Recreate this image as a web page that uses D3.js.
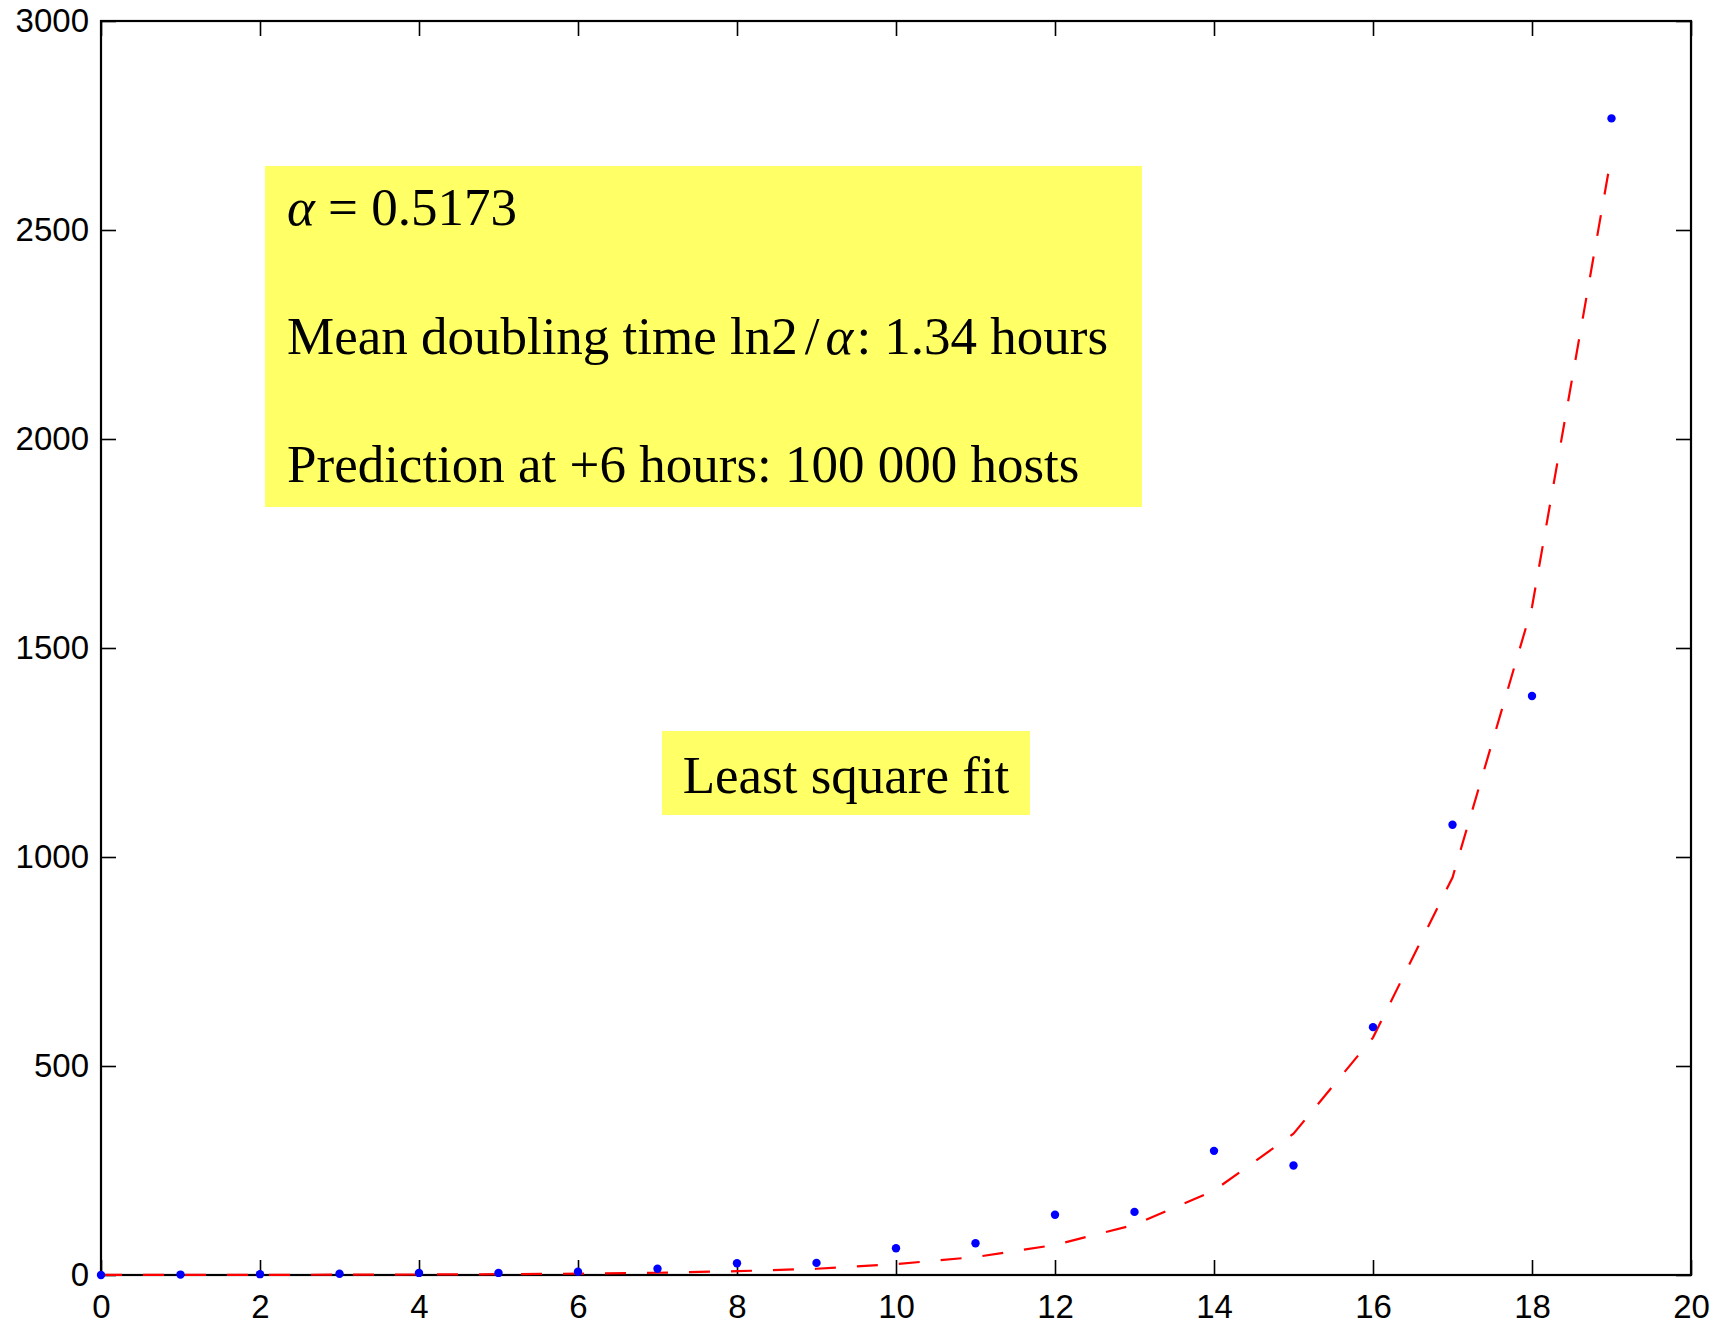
<!DOCTYPE html>
<html>
<head>
<meta charset="utf-8">
<script src="https://cdn.jsdelivr.net/npm/d3@7"></script>
<style>
  body { margin: 0; background: #fff; }
  svg { display: block; }
  .tick text { font-family: "Liberation Sans", Arial, sans-serif; font-size: 33px; fill: #000; }
  .note { font-family: "Liberation Serif", "Times New Roman", serif; font-size: 53px; fill: #000; }
</style>
</head>
<body>
<div class="d3-div"></div>
<script>
var hours = [0, 1, 2, 3, 4, 5, 6, 7, 8, 9, 10, 11, 12, 13, 14, 15, 16, 17, 18, 19];
var hosts = [0, 1, 2, 3, 5, 5, 8, 15, 28, 29, 64, 76, 144, 151, 297, 262, 593, 1077, 1385, 2767];
var fitHosts = [0.14, 0.24, 0.41, 0.69, 1.2, 1.9, 3.2, 5.4, 9.1, 15, 26, 43, 72, 120, 202, 338, 568, 951, 1598, 2680];

var xTicks = [0, 2, 4, 6, 8, 10, 12, 14, 16, 18, 20];
var yTicks = [0, 500, 1000, 1500, 2000, 2500, 3000];

var noteLines = ["α = 0.5173", "Mean doubling time ln2/α: 1.34 hours", "Prediction at +6 hours: 100 000 hosts"];
var fitLabel = "Least square fit";

var width = 1724;
var height = 1325;
// plot box edges (don't call these top/left, window.top is read only)
var plotL = 101, plotR = 1691, plotT = 21, plotB = 1275;

var svg = d3.select(".d3-div")
    .append("svg")
    .attr("width", width)
    .attr("height", height);

var x = d3.scaleLinear().domain([0, 20]).range([plotL, plotR]);
var y = d3.scaleLinear().domain([0, 3000]).range([plotB, plotT]);

// Yellow notes first, under everything else.
var box1 = svg.append("g");
box1.append("rect")
    .attr("x", 265).attr("y", 166)
    .attr("width", 877).attr("height", 341)
    .attr("fill", "#ffff66");
// first line with italic alpha
var l1 = box1.append("text").attr("class", "note").attr("x", 287).attr("y", 225);
l1.append("tspan").attr("font-style", "italic").text("α");
l1.append("tspan").text(" = 0.5173");
// second line, slash and alpha set a bit apart like math mode
var l2 = box1.append("text").attr("class", "note").attr("x", 287).attr("y", 354);
l2.append("tspan").text("Mean doubling time ln2");
l2.append("tspan").attr("dx", 7).text("/");
l2.append("tspan").attr("dx", 6).attr("font-style", "italic").text("α");
l2.append("tspan").attr("dx", 3).text(": 1.34 hours");
box1.append("text").attr("class", "note").attr("x", 287).attr("y", 482).text(noteLines[2]);

svg.append("rect")
    .attr("x", 662).attr("y", 731)
    .attr("width", 368).attr("height", 84)
    .attr("fill", "#ffff66");
svg.append("text").attr("class", "note")
    .attr("x", 846).attr("y", 793)
    .attr("text-anchor", "middle")
    .text(fitLabel);

// Axes: inward ticks on all four sides, labels on bottom and left.
var tickLen = 15;
var xAxis = svg.append("g")
    .attr("transform", "translate(0," + plotB + ")")
    .call(d3.axisBottom(x).tickValues(xTicks).tickSizeInner(-tickLen).tickSizeOuter(0).tickPadding(20).tickFormat(d3.format("d")));
var yAxis = svg.append("g")
    .attr("transform", "translate(" + plotL + ",0)")
    .call(d3.axisLeft(y).tickValues(yTicks).tickSizeInner(-tickLen).tickSizeOuter(0).tickPadding(12).tickFormat(d3.format("d")));
var xTop = svg.append("g")
    .attr("transform", "translate(0," + plotT + ")")
    .call(d3.axisTop(x).tickValues(xTicks).tickSizeInner(-tickLen).tickSizeOuter(0).tickFormat(""));
var yRight = svg.append("g")
    .attr("transform", "translate(" + plotR + ",0)")
    .call(d3.axisRight(y).tickValues(yTicks).tickSizeInner(-tickLen).tickSizeOuter(0).tickFormat(""));

svg.selectAll(".domain").remove();
svg.selectAll(".tick line").attr("stroke", "#000").attr("stroke-width", 1.6);
xAxis.selectAll(".tick text").attr("dy", "0.71em");

// frame
svg.append("rect")
    .attr("x", plotL).attr("y", plotT)
    .attr("width", plotR - plotL).attr("height", plotB - plotT)
    .attr("fill", "none")
    .attr("stroke", "#000")
    .attr("stroke-width", 2.2);

// fitted curve, dashed red
var line = d3.line()
    .x((d, i) => x(hours[i]))
    .y(d => y(d));
svg.append("path")
    .datum(fitHosts)
    .attr("d", line)
    .attr("fill", "none")
    .attr("stroke", "#ff0000")
    .attr("stroke-width", 2.2)
    .attr("stroke-dasharray", "21,21");

// measured points
svg.selectAll("circle.pt")
    .data(hosts)
    .enter()
    .append("circle")
    .attr("class", "pt")
    .attr("cx", (d, i) => x(hours[i]))
    .attr("cy", d => y(d))
    .attr("r", 4.2)
    .attr("fill", "#0000ff");
</script>
</body>
</html>
